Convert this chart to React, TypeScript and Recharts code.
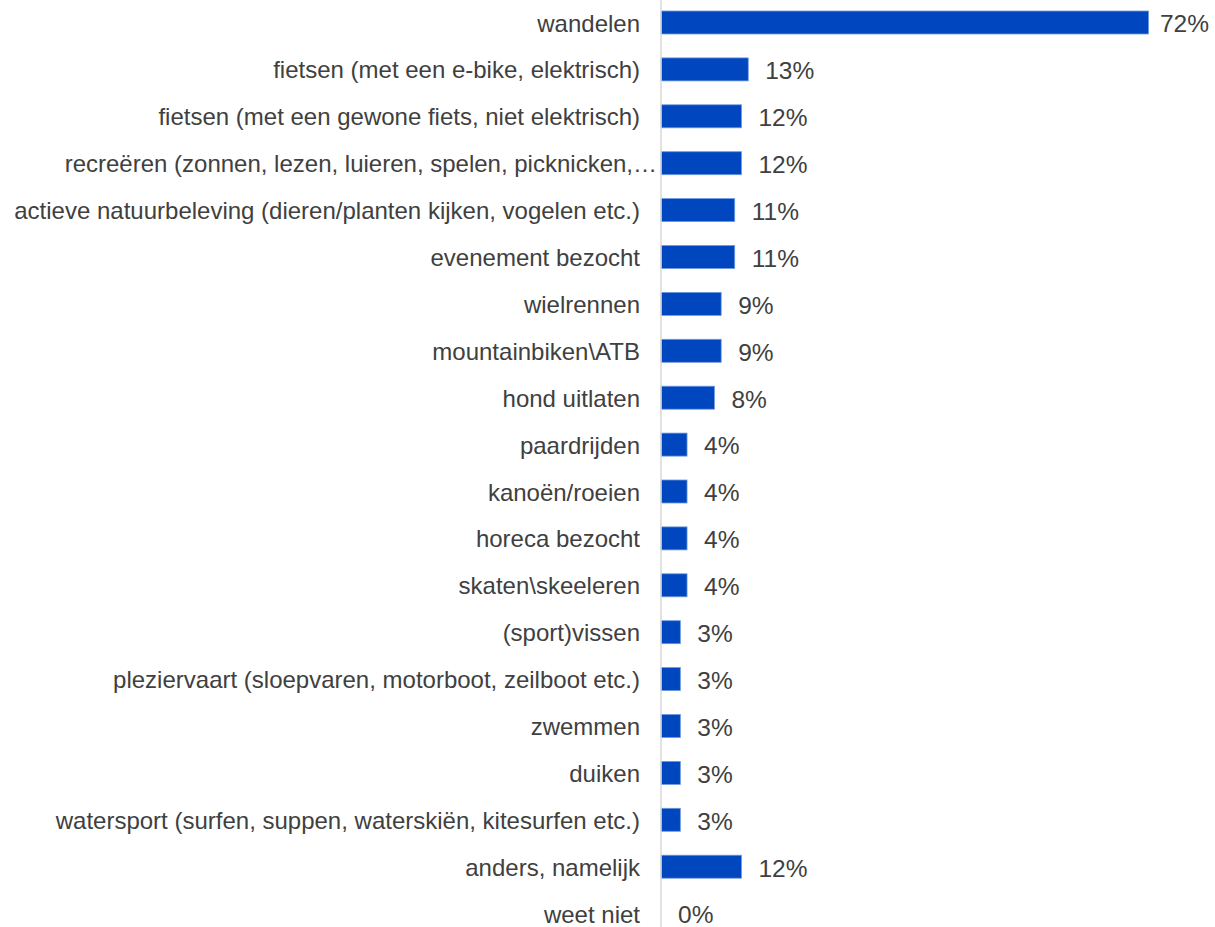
import React from 'react';
import { BarChart, Bar, XAxis, YAxis, LabelList } from 'recharts';

const categories = [
  'wandelen',
  'fietsen (met een e-bike, elektrisch)',
  'fietsen (met een gewone fiets, niet elektrisch)',
  'recreëren (zonnen, lezen, luieren, spelen, picknicken,…',
  'actieve natuurbeleving (dieren/planten kijken, vogelen etc.)',
  'evenement bezocht',
  'wielrennen',
  'mountainbiken\\ATB',
  'hond uitlaten',
  'paardrijden',
  'kanoën/roeien',
  'horeca bezocht',
  'skaten\\skeeleren',
  '(sport)vissen',
  'pleziervaart (sloepvaren, motorboot, zeilboot etc.)',
  'zwemmen',
  'duiken',
  'watersport (surfen, suppen, waterskiën, kitesurfen etc.)',
  'anders, namelijk',
  'weet niet',
];

const values = [72.1, 12.9, 11.9, 11.9, 10.9, 10.9, 8.9, 8.9, 7.9, 3.85, 3.85, 3.85, 3.85, 2.86, 2.86, 2.86, 2.86, 2.86, 11.9, 0];

const valueLabels = ['72%', '13%', '12%', '12%', '11%', '11%', '9%', '9%', '8%', '4%', '4%', '4%', '4%', '3%', '3%', '3%', '3%', '3%', '12%', '0%'];

const data = categories.map((name, i) => ({ name, value: values[i], label: valueLabels[i] }));

const CHART_W = 1215;
const CHART_H = 938;
const FONT = '"Liberation Sans", Arial, sans-serif';
const TEXT_COLOR = '#404040';
const CAT_FS = 24;
const VAL_FS = 24.5;
const BAR_FILL = '#0047BF';
const BAR_STROKE = '#6f98dc';

const CategoryTick = (props: any) => {
  const { x, y, payload } = props;
  const text: string = payload.value;
  const truncated = text.endsWith('…');
  const gap = truncated ? 4 : 21;
  return (
    <text
      x={x - gap}
      y={y}
      dy={CAT_FS * 0.38}
      textAnchor="end"
      fill={TEXT_COLOR}
      fontSize={CAT_FS}
      fontFamily={FONT}
    >
      {text}
    </text>
  );
};

const charW = (s: string) =>
  s.split('').reduce((acc, c) => acc + (c === '%' ? 0.889 : 0.556), 0);

const ValueLabel = (props: any) => {
  const { x, y, width, height, index } = props;
  const text = valueLabels[index];
  const w = charW(text) * VAL_FS;
  const barW = values[index] > 0 ? width : 0;
  let lx = x + barW + 17;
  let anchor: 'start' | 'end' = 'start';
  if (lx + w > CHART_W - 6) {
    lx = CHART_W - 6;
    anchor = 'end';
  }
  return (
    <text
      x={lx}
      y={y + height / 2}
      dy={VAL_FS * 0.4}
      textAnchor={anchor}
      fill={TEXT_COLOR}
      fontSize={VAL_FS}
      fontFamily={FONT}
    >
      {text}
    </text>
  );
};

const BarShape = (props: any) => {
  const { x, y, width, height, payload } = props;
  if (!payload || !(payload.value > 0)) return <g />;
  return (
    <rect
      x={x}
      y={y}
      width={width}
      height={height}
      fill={BAR_FILL}
      stroke={BAR_STROKE}
      strokeWidth={0.8}
    />
  );
};

export default function App() {
  return (
    <div style={{ position: 'absolute', left: 0, top: -1, width: CHART_W, height: CHART_H }}>
      <BarChart
        layout="vertical"
        width={CHART_W}
        height={CHART_H}
        data={data}
        margin={{ top: 0, right: 13, bottom: 0, left: 0 }}
      >
        <XAxis type="number" domain={[0, 80]} hide />
        <YAxis
          type="category"
          dataKey="name"
          width={661}
          interval={0}
          tickLine={false}
          tickSize={0}
          tickMargin={0}
          axisLine={{ stroke: '#d9d9d9', strokeWidth: 1.5 }}
          tick={<CategoryTick />}
        />
        <Bar
          dataKey="value"
          fill={BAR_FILL}
          barSize={23}
          minPointSize={0.01}
          shape={<BarShape />}
          isAnimationActive={false}
        >
          <LabelList dataKey="value" content={<ValueLabel />} />
        </Bar>
      </BarChart>
    </div>
  );
}
